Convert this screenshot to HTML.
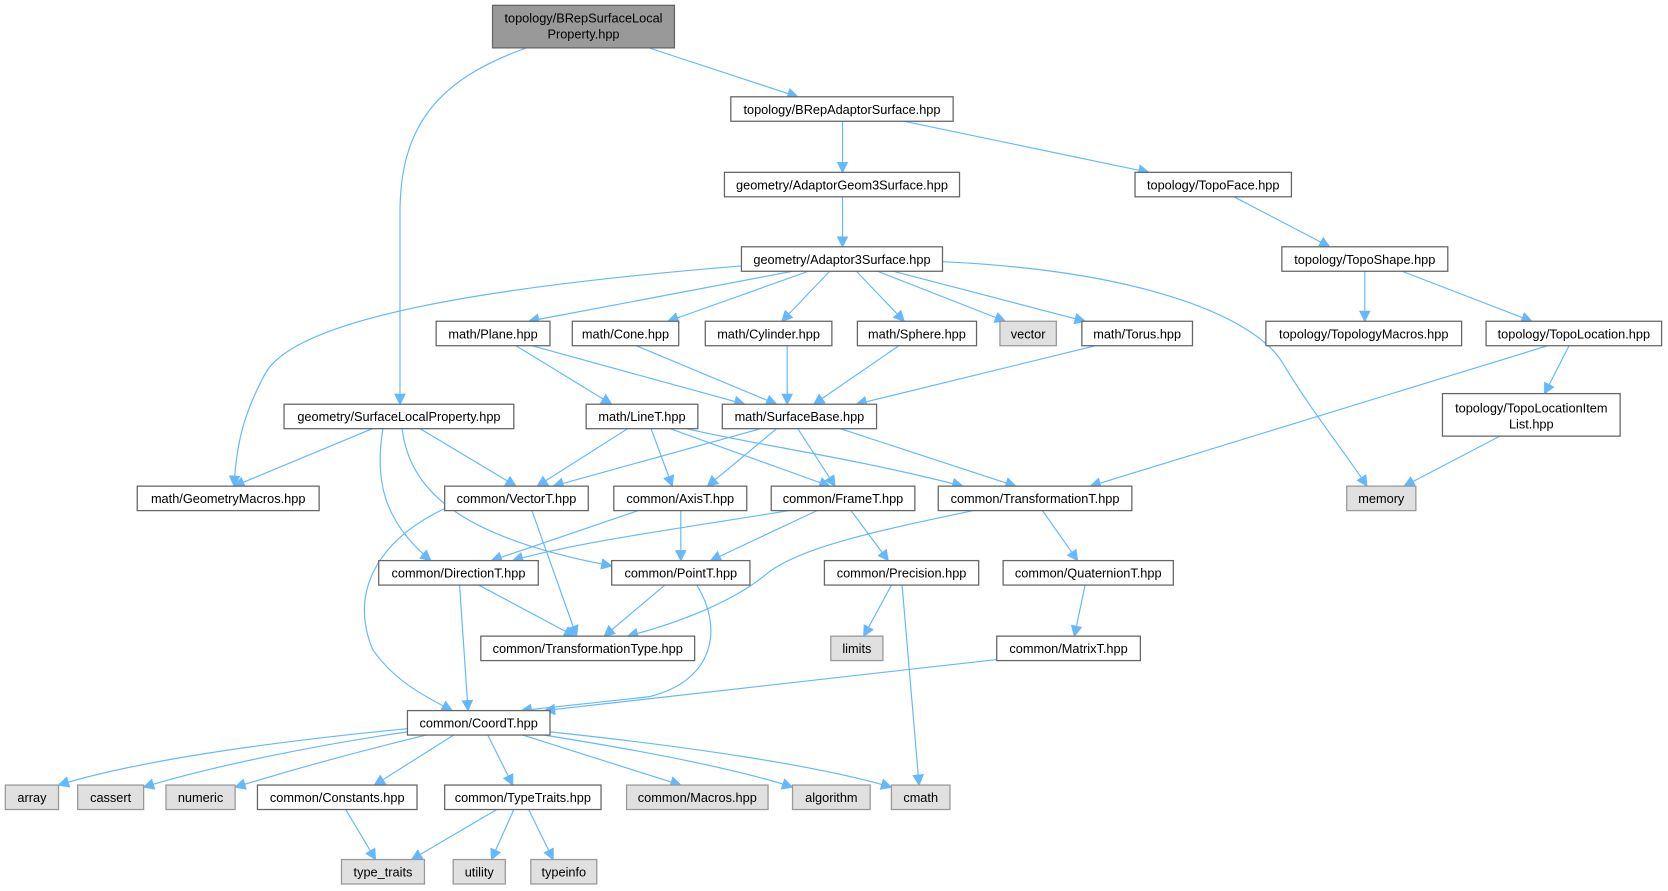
<!DOCTYPE html>
<html><head><meta charset="utf-8"><style>
html,body{margin:0;padding:0;background:#fff;}
svg{display:block;}
text{font-family:"Liberation Sans",Arial,sans-serif;font-size:12px;fill:#000;text-anchor:middle;}
.n{fill:#fff;stroke:#666;stroke-width:1.2;}
.g{fill:#e0e0e0;stroke:#999;stroke-width:1.2;}
.t{fill:#999;stroke:#666;stroke-width:1.2;}
.e{fill:none;stroke:#63b8ff;stroke-width:1.1;marker-end:url(#a);}
</style></head><body>
<svg width="1668" height="891" viewBox="0 0 1568 837.6" xmlns="http://www.w3.org/2000/svg">
<defs><marker id="a" viewBox="0 0 10 10" refX="9" refY="5" markerWidth="11" markerHeight="11" markerUnits="userSpaceOnUse" orient="auto"><path d="M0,0 L10,5 L0,10 z" fill="#63b8ff"/></marker></defs>
<g>
<path class="e" d="M495,45 C410,75 376,120 376,200 L376,380"/>
<path class="e" d="M610,45 L750,91"/>
<path class="e" d="M792,114 L792,162"/>
<path class="e" d="M850,114 L1080,162"/>
<path class="e" d="M792,185 L792,232"/>
<path class="e" d="M1160,185 L1250,232"/>
<path class="e" d="M1283,255 L1283,302"/>
<path class="e" d="M1318,255 L1440,302"/>
<path class="e" d="M1475,325 L1452,370"/>
<path class="e" d="M1455,325 L1025,457"/>
<path class="e" d="M1410,410 L1320,457"/>
<path class="e" d="M697,250 C450,270 280,300 250,350 C228,390 222,420 220,457"/>
<path class="e" d="M745,255 L497,302"/>
<path class="e" d="M760,255 L628,302"/>
<path class="e" d="M780,255 L735,302"/>
<path class="e" d="M805,255 L850,302"/>
<path class="e" d="M825,255 L945,302"/>
<path class="e" d="M840,255 L1020,302"/>
<path class="e" d="M886,246 C1080,255 1180,300 1205,340 C1235,390 1268,430 1285,457"/>
<path class="e" d="M485,325 L575,380"/>
<path class="e" d="M500,325 L700,380"/>
<path class="e" d="M598,325 L730,380"/>
<path class="e" d="M740,325 L740,380"/>
<path class="e" d="M845,325 L765,380"/>
<path class="e" d="M1030,325 L805,380"/>
<path class="e" d="M350,403 L220,457"/>
<path class="e" d="M395,403 L485,457"/>
<path class="e" d="M360,403 C352,450 360,490 405,527"/>
<path class="e" d="M378,403 C385,460 430,505 575,532"/>
<path class="e" d="M590,403 L505,457"/>
<path class="e" d="M612,403 L632,457"/>
<path class="e" d="M630,403 L780,457"/>
<path class="e" d="M645,403 C720,420 800,430 905,457"/>
<path class="e" d="M715,403 L520,457"/>
<path class="e" d="M730,403 L665,457"/>
<path class="e" d="M750,403 L785,457"/>
<path class="e" d="M790,403 L955,457"/>
<path class="e" d="M420,477 C350,510 330,560 350,610 C370,640 400,655 425,668"/>
<path class="e" d="M500,480 L542,598"/>
<path class="e" d="M600,480 L462,527"/>
<path class="e" d="M640,480 L640,527"/>
<path class="e" d="M742,480 C650,495 540,510 482,527"/>
<path class="e" d="M768,480 L668,527"/>
<path class="e" d="M800,480 L835,527"/>
<path class="e" d="M915,480 C820,500 750,515 720,540 C690,565 640,585 590,598"/>
<path class="e" d="M980,480 L1013,527"/>
<path class="e" d="M450,550 L540,598"/>
<path class="e" d="M432,550 L440,668"/>
<path class="e" d="M625,550 L568,598"/>
<path class="e" d="M655,550 C680,590 672,640 610,655 L490,668"/>
<path class="e" d="M838,550 L812,598"/>
<path class="e" d="M848,550 L864,738"/>
<path class="e" d="M1020,550 L1010,598"/>
<path class="e" d="M937,620 L512,668"/>
<path class="e" d="M383,685 C250,698 130,715 55,738"/>
<path class="e" d="M383,688 C300,700 200,720 135,740"/>
<path class="e" d="M405,690 C330,708 270,725 221,740"/>
<path class="e" d="M428,690 L352,738"/>
<path class="e" d="M458,690 L482,738"/>
<path class="e" d="M488,690 L640,738"/>
<path class="e" d="M505,690 C600,705 690,722 745,740"/>
<path class="e" d="M517,688 C650,702 770,720 838,740"/>
<path class="e" d="M325,761 L353,808"/>
<path class="e" d="M467,761 L387,808"/>
<path class="e" d="M483,761 L462,808"/>
<path class="e" d="M497,761 L520,808"/>
</g>
<g>
<rect class="t" x="463" y="5" width="171" height="40"/><text x="548.5" y="21">topology/BRepSurfaceLocal</text><text x="548.5" y="36">Property.hpp</text>
<rect class="n" x="687" y="91" width="209" height="23"/><text x="791.5" y="107">topology/BRepAdaptorSurface.hpp</text>
<rect class="n" x="681" y="162" width="221" height="23"/><text x="791.5" y="178">geometry/AdaptorGeom3Surface.hpp</text>
<rect class="n" x="1067" y="162" width="147" height="23"/><text x="1140.5" y="178">topology/TopoFace.hpp</text>
<rect class="n" x="697" y="232" width="189" height="23"/><text x="791.5" y="248">geometry/Adaptor3Surface.hpp</text>
<rect class="n" x="1205" y="232" width="156" height="23"/><text x="1283" y="248">topology/TopoShape.hpp</text>
<rect class="n" x="410" y="302" width="107" height="23"/><text x="463.5" y="318">math/Plane.hpp</text>
<rect class="n" x="538" y="302" width="100" height="23"/><text x="588" y="318">math/Cone.hpp</text>
<rect class="n" x="663" y="302" width="119" height="23"/><text x="722.5" y="318">math/Cylinder.hpp</text>
<rect class="n" x="806" y="302" width="112" height="23"/><text x="862" y="318">math/Sphere.hpp</text>
<rect class="g" x="940" y="302" width="53" height="23"/><text x="966.5" y="318">vector</text>
<rect class="n" x="1017" y="302" width="104" height="23"/><text x="1069" y="318">math/Torus.hpp</text>
<rect class="n" x="1190" y="302" width="184" height="23"/><text x="1282" y="318">topology/TopologyMacros.hpp</text>
<rect class="n" x="1397" y="302" width="165" height="23"/><text x="1479.5" y="318">topology/TopoLocation.hpp</text>
<rect class="n" x="267" y="380" width="216" height="23"/><text x="375" y="396">geometry/SurfaceLocalProperty.hpp</text>
<rect class="n" x="551" y="380" width="105" height="23"/><text x="603.5" y="396">math/LineT.hpp</text>
<rect class="n" x="679" y="380" width="145" height="23"/><text x="751.5" y="396">math/SurfaceBase.hpp</text>
<rect class="n" x="1356" y="370" width="167" height="40"/><text x="1439.5" y="388">topology/TopoLocationItem</text><text x="1439.5" y="403">List.hpp</text>
<rect class="n" x="129" y="457" width="171" height="23"/><text x="214.5" y="473">math/GeometryMacros.hpp</text>
<rect class="n" x="418" y="457" width="135" height="23"/><text x="485.5" y="473">common/VectorT.hpp</text>
<rect class="n" x="577" y="457" width="125" height="23"/><text x="639.5" y="473">common/AxisT.hpp</text>
<rect class="n" x="725" y="457" width="135" height="23"/><text x="792.5" y="473">common/FrameT.hpp</text>
<rect class="n" x="882" y="457" width="182" height="23"/><text x="973" y="473">common/TransformationT.hpp</text>
<rect class="g" x="1266" y="457" width="65" height="23"/><text x="1298.5" y="473">memory</text>
<rect class="n" x="356" y="527" width="150" height="23"/><text x="431" y="543">common/DirectionT.hpp</text>
<rect class="n" x="575" y="527" width="130" height="23"/><text x="640" y="543">common/PointT.hpp</text>
<rect class="n" x="775" y="527" width="145" height="23"/><text x="847.5" y="543">common/Precision.hpp</text>
<rect class="n" x="943" y="527" width="160" height="23"/><text x="1023" y="543">common/QuaternionT.hpp</text>
<rect class="n" x="452" y="598" width="201" height="23"/><text x="552.5" y="614">common/TransformationType.hpp</text>
<rect class="g" x="781" y="598" width="49" height="23"/><text x="805.5" y="614">limits</text>
<rect class="n" x="937" y="598" width="135" height="23"/><text x="1004.5" y="614">common/MatrixT.hpp</text>
<rect class="n" x="383" y="668" width="134" height="23"/><text x="450" y="684">common/CoordT.hpp</text>
<rect class="g" x="5" y="738" width="50" height="23"/><text x="30" y="754">array</text>
<rect class="g" x="73" y="738" width="62" height="23"/><text x="104" y="754">cassert</text>
<rect class="g" x="156" y="738" width="65" height="23"/><text x="188.5" y="754">numeric</text>
<rect class="n" x="242" y="738" width="150" height="23"/><text x="317" y="754">common/Constants.hpp</text>
<rect class="n" x="418" y="738" width="147" height="23"/><text x="491.5" y="754">common/TypeTraits.hpp</text>
<rect class="g" x="589" y="738" width="133" height="23"/><text x="655.5" y="754">common/Macros.hpp</text>
<rect class="g" x="745" y="738" width="73" height="23"/><text x="781.5" y="754">algorithm</text>
<rect class="g" x="838" y="738" width="55" height="23"/><text x="865.5" y="754">cmath</text>
<rect class="g" x="321" y="808" width="78" height="23"/><text x="360" y="824">type_traits</text>
<rect class="g" x="426" y="808" width="49" height="23"/><text x="450.5" y="824">utility</text>
<rect class="g" x="499" y="808" width="62" height="23"/><text x="530" y="824">typeinfo</text>
</g>
</svg>
</body></html>
